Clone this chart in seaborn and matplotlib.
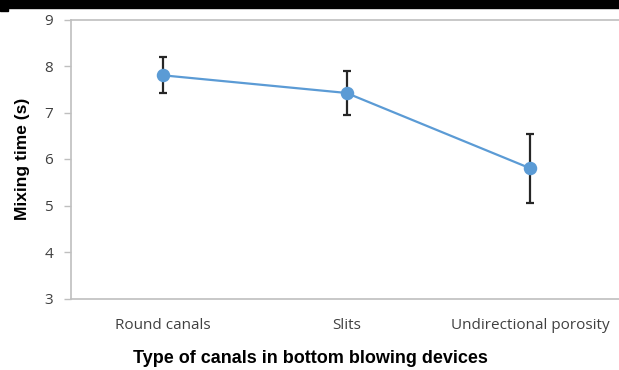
import matplotlib
matplotlib.use("Agg")
import matplotlib.pyplot as plt
import seaborn as sns
import pandas as pd
from matplotlib.patches import Rectangle

# values
canal_types = ["Round canals", "Slits", "Undirectional porosity"]
mixing_time = [7.8, 7.42, 5.8]
mixing_err = [0.39, 0.47, 0.74]
y_ticks = [3, 4, 5, 6, 7, 8, 9]

sns.set_theme(style="white")
plt.rcParams['font.family'] = ['Open Sans', 'DejaVu Sans']

df = pd.DataFrame({"type": canal_types, "time": mixing_time, "err": mixing_err})

fig = plt.figure(figsize=(6.19, 3.70), dpi=100)
ax = fig.add_axes([71 / 619, 71.5 / 370, 551 / 619, 279 / 370])

blue = "#5B9BD5"
sns.pointplot(data=df, x="type", y="time", color=blue, errorbar=None,
              markers="o", markersize=8.5, linewidth=1.6, ax=ax, zorder=3)
ax.errorbar(x=range(len(df)), y=df["time"], yerr=df["err"], fmt="none",
            ecolor="#262626", elinewidth=1.6, capsize=3.2, capthick=1.6, zorder=2)

ax.set_ylim(3, 9)
ax.set_xlim(-0.5, 2.5)
ax.set_yticks(y_ticks)
ax.set_yticklabels([str(t) for t in y_ticks], fontsize=11, color="#404040")
ax.set_xticks(range(len(canal_types)))
ax.set_xticklabels(canal_types, fontsize=11, color="#404040")
ax.set_xticks([-0.5, 0.5, 1.5, 2.5], minor=True)
ax.tick_params(axis="x", which="major", length=0, pad=14)
ax.tick_params(axis="x", which="minor", length=5, color="#BFBFBF", width=1, direction="out")
ax.tick_params(axis="y", length=5, color="#BFBFBF", width=1, direction="out", left=True, pad=8)

for side in ["left", "bottom", "top"]:
    ax.spines[side].set_color("#BFBFBF")
    ax.spines[side].set_linewidth(1.2)
ax.spines["right"].set_visible(False)

ax.set_xlabel("Type of canals in bottom blowing devices", family=["Liberation Sans"],
              fontsize=13, fontweight="bold", color="black")
ax.xaxis.set_label_coords(0.434, -0.183)
ax.set_ylabel("Mixing time (s)", family=["Liberation Sans"],
              fontsize=12.5, fontweight="bold", color="black", labelpad=10)

# black band along the top edge of the scan
fig.add_artist(Rectangle((0, 1 - 8 / 370), 1, 8 / 370, transform=fig.transFigure,
                         color="black", zorder=10))
fig.add_artist(Rectangle((0, 1 - 11 / 370), 8 / 619, 11 / 370, transform=fig.transFigure,
                         color="black", zorder=10))

fig.savefig("out.png", dpi=100)
